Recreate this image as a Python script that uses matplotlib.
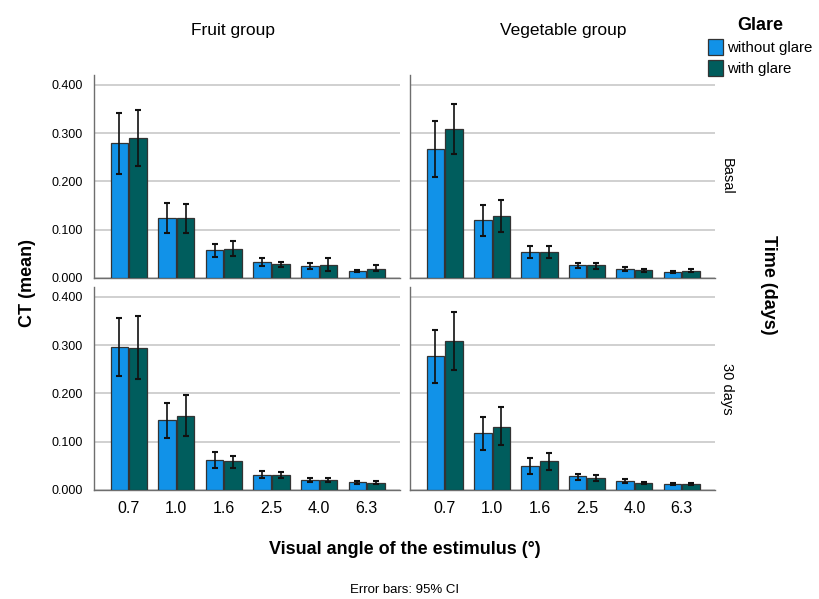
import numpy as np
import matplotlib
matplotlib.use('Agg')
import matplotlib.pyplot as plt
from matplotlib.patches import Patch

plt.rcParams['font.family'] = ['Liberation Sans', 'DejaVu Sans']

angles = ['0.7', '1.0', '1.6', '2.5', '4.0', '6.3']
groups = ['Fruit group', 'Vegetable group']
times = ['Basal', '30 days']
glare_labels = ['without glare', 'with glare']

# mean CT per panel and glare condition
fruit_basal_without = [0.279, 0.125, 0.057, 0.034, 0.024, 0.014]
fruit_basal_with = [0.289, 0.124, 0.061, 0.028, 0.026, 0.019]
veg_basal_without = [0.267, 0.119, 0.054, 0.026, 0.019, 0.012]
veg_basal_with = [0.308, 0.129, 0.054, 0.026, 0.016, 0.015]
fruit_30_without = [0.296, 0.144, 0.062, 0.032, 0.020, 0.016]
fruit_30_with = [0.294, 0.154, 0.059, 0.031, 0.020, 0.015]
veg_30_without = [0.277, 0.117, 0.050, 0.028, 0.019, 0.012]
veg_30_with = [0.308, 0.131, 0.059, 0.025, 0.015, 0.012]

# 95% CI lower / upper
fruit_basal_without_lo = [0.216, 0.094, 0.044, 0.025, 0.019, 0.012]
fruit_basal_without_hi = [0.341, 0.156, 0.071, 0.041, 0.031, 0.016]
fruit_basal_with_lo = [0.232, 0.094, 0.045, 0.023, 0.014, 0.014]
fruit_basal_with_hi = [0.348, 0.154, 0.077, 0.034, 0.041, 0.026]
veg_basal_without_lo = [0.209, 0.087, 0.041, 0.020, 0.015, 0.011]
veg_basal_without_hi = [0.325, 0.152, 0.067, 0.032, 0.023, 0.015]
veg_basal_with_lo = [0.257, 0.096, 0.041, 0.019, 0.013, 0.012]
veg_basal_with_hi = [0.361, 0.162, 0.067, 0.031, 0.019, 0.018]
fruit_30_without_lo = [0.235, 0.108, 0.046, 0.024, 0.016, 0.013]
fruit_30_without_hi = [0.356, 0.179, 0.079, 0.040, 0.024, 0.019]
fruit_30_with_lo = [0.230, 0.111, 0.046, 0.025, 0.016, 0.013]
fruit_30_with_hi = [0.359, 0.197, 0.071, 0.038, 0.024, 0.018]
veg_30_without_lo = [0.222, 0.082, 0.034, 0.021, 0.015, 0.010]
veg_30_without_hi = [0.332, 0.152, 0.066, 0.034, 0.023, 0.014]
veg_30_with_lo = [0.248, 0.093, 0.041, 0.019, 0.012, 0.010]
veg_30_with_hi = [0.369, 0.171, 0.077, 0.032, 0.017, 0.015]

panels = {
    (0, 0): [(fruit_basal_without, fruit_basal_without_lo, fruit_basal_without_hi),
             (fruit_basal_with, fruit_basal_with_lo, fruit_basal_with_hi)],
    (0, 1): [(veg_basal_without, veg_basal_without_lo, veg_basal_without_hi),
             (veg_basal_with, veg_basal_with_lo, veg_basal_with_hi)],
    (1, 0): [(fruit_30_without, fruit_30_without_lo, fruit_30_without_hi),
             (fruit_30_with, fruit_30_with_lo, fruit_30_with_hi)],
    (1, 1): [(veg_30_without, veg_30_without_lo, veg_30_without_hi),
             (veg_30_with, veg_30_with_lo, veg_30_with_hi)],
}

colors = ['#1192e8', '#005d5d']
W, H = 819, 599
fig = plt.figure(figsize=(W / 100, H / 100), dpi=100)

col_x = [(94, 400), (410, 715)]
row_y = [(75, 278), (287, 490)]
title_x = [233, 563]
x = np.arange(len(angles))
offsets = [-0.195, 0.195]

for (r, c), series in panels.items():
    x0, x1 = col_x[c]
    ytop, ybot = row_y[r]
    ax = fig.add_axes([x0 / W, 1 - ybot / H, (x1 - x0) / W, (ybot - ytop) / H])
    for k, (vals, lo, hi) in enumerate(series):
        vals = np.array(vals)
        err = [vals - np.array(lo), np.array(hi) - vals]
        ax.bar(x + offsets[k], vals, width=0.37, color=colors[k],
               edgecolor='#333333', linewidth=0.9, zorder=3)
        ax.errorbar(x + offsets[k], vals, yerr=err, fmt='none', ecolor='#111111',
                    elinewidth=1.2, capsize=2.5, capthick=1.5, zorder=4)
    ax.set_xlim(-0.73, 5.7)
    ax.set_ylim(0, 0.42)
    ax.set_yticks([0, 0.1, 0.2, 0.3, 0.4])
    ax.yaxis.grid(True, color='#c8c8c8', linewidth=1.2, zorder=0)
    ax.set_axisbelow(True)
    for s in ['top', 'right']:
        ax.spines[s].set_visible(False)
    for s in ['left', 'bottom']:
        ax.spines[s].set_color('#6e6e6e')
        ax.spines[s].set_linewidth(1.0)
    ax.tick_params(axis='x', length=0, labelsize=11.5, pad=8)
    ax.tick_params(axis='y', length=0, labelsize=9, pad=8)
    if c == 0:
        ax.set_yticklabels(['%.3f' % v for v in [0, 0.1, 0.2, 0.3, 0.4]])
    else:
        ax.set_yticklabels([])
    if r == 1:
        ax.set_xticks(x)
        ax.set_xticklabels(angles)
    else:
        ax.set_xticks([])
        fig.text(title_x[c] / W, 1 - 30 / H, groups[c], ha='center', va='center',
                 fontsize=12.5)
    if c == 1:
        ax.text(1.04, 0.5, times[r], transform=ax.transAxes, rotation=-90,
                ha='center', va='center', fontsize=10.5)

fig.text(28 / W, 1 - 283 / H, 'CT (mean)', rotation=90, ha='center', va='center',
         fontsize=13, fontweight='bold')
fig.text(768 / W, 1 - 285 / H, 'Time (days)', rotation=-90, ha='center', va='center',
         fontsize=13, fontweight='bold')
fig.text(405 / W, 1 - 549 / H, 'Visual angle of the estimulus (°)', ha='center',
         va='center', fontsize=13, fontweight='bold')
fig.text(405 / W, 1 - 590 / H, 'Error bars: 95% CI', ha='center', va='center',
         fontsize=9.5)

handles = [Patch(facecolor=colors[i], edgecolor='#333333', linewidth=0.9)
           for i in range(2)]
leg = fig.legend(handles, glare_labels, title='Glare', loc='upper left',
                 bbox_to_anchor=(694 / W, 1 - 4 / H), frameon=False,
                 handlelength=1.05, handleheight=1.3, handletextpad=0.25,
                 labelspacing=0.3, fontsize=10.8,
                 title_fontproperties={'weight': 'bold', 'size': 13})

fig.savefig('out.png', dpi=100)
